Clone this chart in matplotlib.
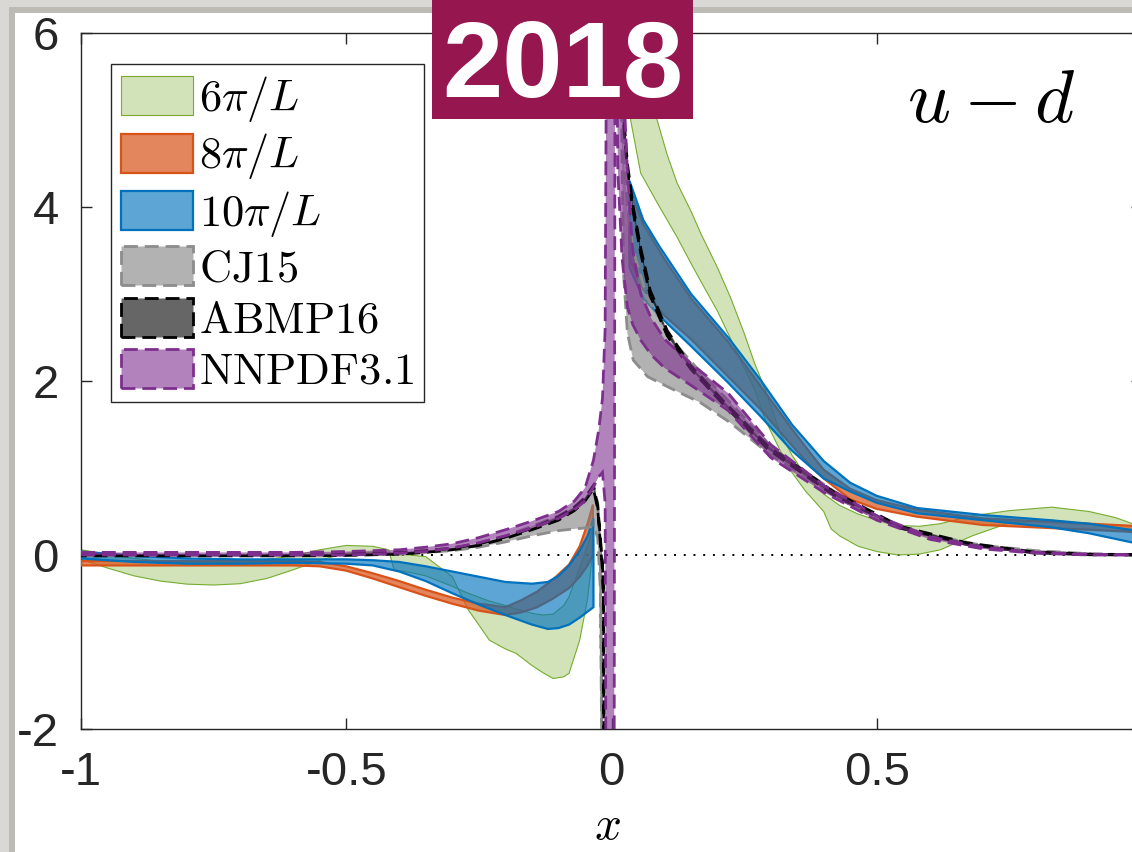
import numpy as np
import matplotlib.pyplot as plt
from matplotlib.colors import to_rgba
from matplotlib.patches import Rectangle

plt.rcParams['font.family'] = ['Liberation Sans', 'DejaVu Sans']
plt.rcParams['mathtext.fontset'] = 'cm'

# ---- lattice results (bands), x < 0 and x > 0 pieces ----
# 6pi/L
g_xl = [-1, -0.95, -0.9, -0.85, -0.8, -0.75, -0.7, -0.65, -0.6, -0.55, -0.5, -0.45, -0.42, -0.41, -0.38,
        -0.35, -0.3, -0.27, -0.23, -0.2, -0.18, -0.15, -0.13, -0.11, -0.09, -0.08, -0.06, -0.045, -0.035]
g_hl = [0.06, 0.01, -0.04, -0.07, -0.09, -0.09, -0.08, -0.05, -0.01, 0.06, 0.11, 0.1, 0.06, -0.17, -0.2,
        -0.24, -0.36, -0.44, -0.53, -0.58, -0.62, -0.67, -0.69, -0.68, -0.58, -0.48, -0.15, 0.1, 0.33]
g_ll = [-0.05, -0.15, -0.24, -0.3, -0.335, -0.345, -0.33, -0.27, -0.17, -0.06, 0.02, 0.03, 0.02, 0.01, 0.0,
        -0.02, -0.25, -0.63, -0.98, -1.08, -1.13, -1.27, -1.35, -1.42, -1.4, -1.36, -0.98, -0.5, 0.06]
g_xr = [0.02, 0.026, 0.036, 0.055, 0.086, 0.105, 0.124, 0.15, 0.168, 0.2, 0.225, 0.25, 0.27, 0.29, 0.318,
        0.34, 0.365, 0.4, 0.414, 0.43, 0.465, 0.5, 0.54, 0.58, 0.62, 0.68, 0.75, 0.83, 0.9, 0.95, 1.0]
g_hr = [8, 7.5, 6.6, 5.9, 5.0, 4.6, 4.27, 3.95, 3.7, 3.3, 2.95, 2.55, 2.2, 1.9, 1.4,
        1.15, 0.92, 0.7, 0.64, 0.57, 0.47, 0.4, 0.34, 0.33, 0.36, 0.45, 0.51, 0.55, 0.5, 0.43, 0.32]
g_lr = [8, 6.0, 5.0, 4.39, 4.05, 3.85, 3.65, 3.35, 3.15, 2.8, 2.48, 2.15, 1.9, 1.55, 1.2,
        0.95, 0.74, 0.5, 0.3, 0.22, 0.1, 0.04, 0.0, 0.01, 0.06, 0.22, 0.37, 0.4, 0.36, 0.31, 0.22]

# 8pi/L
o_xl = [-1, -0.9, -0.8, -0.7, -0.6, -0.55, -0.5, -0.45, -0.4, -0.35, -0.3, -0.25, -0.2, -0.17, -0.14,
        -0.11, -0.08, -0.06, -0.045, -0.035]
o_hl = [-0.07, -0.07, -0.07, -0.07, -0.07, -0.08, -0.13, -0.21, -0.3, -0.4, -0.49, -0.56, -0.6, -0.52, -0.42,
        -0.28, -0.11, 0.1, 0.36, 0.58]
o_ll = [-0.12, -0.12, -0.12, -0.12, -0.12, -0.13, -0.18, -0.27, -0.37, -0.47, -0.56, -0.64, -0.69, -0.66, -0.6,
        -0.5, -0.38, -0.25, -0.12, 0.0]
o_xr = [0.034, 0.06, 0.1, 0.15, 0.22, 0.28, 0.34, 0.375, 0.4, 0.45, 0.5, 0.576, 0.7, 0.827, 0.9, 1.0]
o_hr = [4.2, 3.8, 3.4, 2.95, 2.45, 1.95, 1.45, 1.17, 0.98, 0.76, 0.63, 0.52, 0.42, 0.38, 0.36, 0.33]
o_lr = [3.4, 3.05, 2.75, 2.48, 2.05, 1.68, 1.26, 1.02, 0.88, 0.64, 0.53, 0.44, 0.345, 0.31, 0.29, 0.26]

# 10pi/L
b_xl = [-1, -0.9, -0.8, -0.7, -0.6, -0.5, -0.45, -0.4, -0.35, -0.3, -0.25, -0.2, -0.15, -0.12, -0.1,
        -0.08, -0.06, -0.045, -0.034]
b_hl = [0.04, -0.01, -0.04, -0.05, -0.05, -0.05, -0.06, -0.08, -0.13, -0.19, -0.25, -0.31, -0.33, -0.31, -0.24,
        -0.12, 0.05, 0.22, 0.42]
b_ll = [-0.04, -0.08, -0.1, -0.1, -0.09, -0.1, -0.12, -0.19, -0.3, -0.44, -0.57, -0.69, -0.8, -0.85, -0.84,
        -0.8, -0.72, -0.65, -0.6]
b_xr = [0.034, 0.06, 0.09, 0.15, 0.22, 0.28, 0.34, 0.4, 0.45, 0.5, 0.576, 0.7, 0.827, 0.9, 1.0]
b_hr = [4.3, 3.85, 3.55, 3.0, 2.5, 2.02, 1.5, 1.08, 0.83, 0.68, 0.54, 0.46, 0.4, 0.36, 0.27]
b_lr = [3.3, 2.95, 2.75, 2.4, 1.98, 1.6, 1.2, 0.88, 0.73, 0.6, 0.48, 0.4, 0.32, 0.25, 0.12]

# ---- global fits ----
# CJ15
cj_xl = [-1, -0.6, -0.5, -0.4, -0.35, -0.3, -0.25, -0.2, -0.15, -0.1, -0.07, -0.05, -0.034, -0.026, -0.021,
         -0.018, -0.016]
cj_hl = [0.0, 0.0, 0.01, 0.03, 0.05, 0.08, 0.14, 0.22, 0.33, 0.45, 0.55, 0.64, 0.78, 0.6, 0.0, -2.0, -8]
cj_ll = [0.0, 0.0, 0.0, 0.01, 0.03, 0.05, 0.09, 0.15, 0.22, 0.28, 0.3, 0.31, 0.33, 0.2, -0.4, -2.5, -8]
cj_xr = [0.015, 0.02, 0.023, 0.03, 0.041, 0.068, 0.117, 0.168, 0.224, 0.3, 0.36, 0.42, 0.48, 0.55, 0.61,
         0.7, 0.8, 0.9, 1.0]
cj_hr = [8, 6.0, 4.6, 4.0, 3.5, 2.95, 2.45, 2.1, 1.75, 1.25, 0.98, 0.73, 0.5, 0.32, 0.22, 0.11, 0.05, 0.015, 0.0]
cj_lr = [8, 4.5, 3.2, 2.55, 2.24, 2.05, 1.9, 1.75, 1.52, 1.15, 0.92, 0.68, 0.48, 0.3, 0.2, 0.1, 0.04, 0.01, 0.0]

# ABMP16
ab_xl = [-1, -0.6, -0.5, -0.4, -0.35, -0.3, -0.25, -0.2, -0.15, -0.1, -0.07, -0.05, -0.034, -0.026, -0.021,
         -0.017, -0.015, -0.014, -0.013]
ab_hl = [0.01, 0.01, 0.015, 0.03, 0.05, 0.08, 0.13, 0.21, 0.31, 0.44, 0.55, 0.66, 0.8, 0.57, 0.2,
         -0.1, -0.45, -2.4, -8]
ab_ll = [-0.01, -0.01, -0.005, 0.01, 0.03, 0.06, 0.11, 0.19, 0.29, 0.4, 0.51, 0.62, 0.76, 0.53, 0.14,
         -0.18, -0.55, -2.6, -8]
ab_xr = [0.005, 0.012, 0.023, 0.03, 0.041, 0.055, 0.073, 0.105, 0.149, 0.211, 0.294, 0.418, 0.544, 0.67,
         0.795, 0.9, 1.0]
ab_hr = [10, 6.3, 5.05, 4.5, 4.0, 3.53, 3.04, 2.58, 2.18, 1.77, 1.26, 0.73, 0.33, 0.14, 0.035, 0.008, 0.002]
ab_lr = [10, 6.1, 4.95, 4.42, 3.94, 3.47, 2.98, 2.52, 2.14, 1.73, 1.22, 0.69, 0.31, 0.12, 0.025, 0.003, 0.0]

# NNPDF3.1 (one piece across x = 0)
nn_x = [-1, -0.9, -0.8, -0.7, -0.6, -0.5, -0.4, -0.35, -0.3, -0.25, -0.2, -0.15, -0.1, -0.07, -0.05,
        -0.034, -0.024, -0.017, -0.012, -0.008, 0.004, 0.007, 0.012, 0.02, 0.03, 0.04, 0.055, 0.075, 0.1, 0.15,
        0.22, 0.3, 0.4, 0.5, 0.6, 0.7, 0.8, 0.9, 1.0]
nn_hi = [0.03, 0.03, 0.03, 0.03, 0.03, 0.04, 0.06, 0.09, 0.13, 0.2, 0.29, 0.39, 0.5, 0.62, 0.77,
         1.09, 1.44, 1.8, 2.6, 8, 8, 8, 7.5, 5.8, 4.4, 3.5, 3.0, 2.72, 2.48, 2.2,
         1.86, 1.27, 0.8, 0.45, 0.21, 0.09, 0.03, 0.01, 0.0]
nn_lo = [0.0, 0.0, 0.0, 0.0, 0.0, 0.0, 0.02, 0.04, 0.08, 0.14, 0.22, 0.31, 0.42, 0.52, 0.62,
         0.78, 0.9, 0.95, 0.6, -8, -8, 8, 4.4, 3.4, 2.85, 2.65, 2.47, 2.3, 2.15, 1.95,
         1.66, 1.12, 0.72, 0.4, 0.18, 0.07, 0.02, 0.0, 0.0]

labels = [r'$6\pi/L$', r'$8\pi/L$', r'$10\pi/L$', r'$\mathrm{CJ15}$', r'$\mathrm{ABMP16}$', r'$\mathrm{NNPDF3.1}$']
xticks = [-1, -0.5, 0, 0.5, 1]
xtick_labels = ['-1', '-0.5', '0', '0.5', '1']
yticks = [-2, 0, 2, 4, 6]
ytick_labels = ['-2', '0', '2', '4', '6']

W, H = 1132, 852
fig = plt.figure(figsize=(W / 100, H / 100), dpi=100)
fig.patch.set_facecolor('#d9d8d4')
# slide panel with a soft shadow
fig.add_artist(Rectangle((9 / W, 0), 1, (H - 7) / H, transform=fig.transFigure,
                         facecolor='#bdbbb6', edgecolor='none', zorder=-3))
fig.add_artist(Rectangle((15 / W, 0), 1, (H - 13) / H, transform=fig.transFigure,
                         facecolor='white', edgecolor='none', zorder=-2))

ax = fig.add_axes([81 / W, 123 / H, 1061 / W, 696 / H])


def band(x, lo, hi, color, alpha, lw, ls='-', edge=None, z=2):
    x = np.asarray(x, float)
    px = np.concatenate([x, x[::-1]])
    py = np.concatenate([np.asarray(hi, float), np.asarray(lo, float)[::-1]])
    poly, = ax.fill(px, py, facecolor=to_rgba(color, alpha), edgecolor=edge or color,
                    linewidth=lw, linestyle=ls, zorder=z)
    return poly


ax.axhline(0, color='k', lw=1.4, ls=(0, (1, 4)), zorder=1)

dash = (0, (5, 2.5))
h_g = band(g_xl, g_ll, g_hl, '#77ac30', 0.33, 0.8, z=2)
band(g_xr, g_lr, g_hr, '#77ac30', 0.33, 0.8, z=2)
h_o = band(o_xl, o_ll, o_hl, '#d95319', 0.7, 1.6, z=3)
band(o_xr, o_lr, o_hr, '#d95319', 0.7, 1.6, z=3)
h_b = band(b_xl, b_ll, b_hl, '#0072bd', 0.64, 1.6, z=4)
band(b_xr, b_lr, b_hr, '#0072bd', 0.64, 1.6, z=4)
h_cj = band(cj_xl, cj_ll, cj_hl, '#808080', 0.6, 2.0, dash, edge='#8c8c8c', z=5)
band(cj_xr, cj_lr, cj_hr, '#808080', 0.6, 2.0, dash, edge='#8c8c8c', z=5)
h_ab = band(ab_xl, ab_ll, ab_hl, '#000000', 0.6, 2.0, dash, z=6)
band(ab_xr, ab_lr, ab_hr, '#000000', 0.6, 2.0, dash, z=6)
h_nn = band(nn_x, nn_lo, nn_hi, '#7e2f8e', 0.6, 2.0, dash, z=7)

ax.set_xlim(-1, 1)
ax.set_ylim(-2, 6)
ax.set_xticks(xticks, labels=xtick_labels)
ax.set_yticks(yticks, labels=ytick_labels)
ax.tick_params(direction='in', length=8, width=1.0, colors='#262626', labelsize=34, pad=16,
               top=True, right=True)
for s in ax.spines.values():
    s.set_color('#262626')
    s.set_linewidth(1.0)

leg = ax.legend([h_g, h_o, h_b, h_cj, h_ab, h_nn], labels, loc='upper left',
                bbox_to_anchor=(0.0283, 0.9555), borderaxespad=0, fontsize=32,
                handlelength=1.62, handleheight=0.97, handletextpad=0.15, labelspacing=0.17,
                borderpad=0.22, fancybox=False, framealpha=1, edgecolor='#262626')
leg.get_frame().set_linewidth(1.0)

ax.text(0.716, 4.98, r'$u-d$', fontsize=54, ha='center', va='baseline')
fig.text(607 / W, 3 / H, r'$x$', fontsize=34, ha='center', va='bottom')

# year banner
fig.add_artist(Rectangle((432 / W, (H - 119) / H), 261 / W, 119 / H, transform=fig.transFigure,
                         facecolor='#96174f', edgecolor='none', zorder=10))
fig.text(563 / W, (H - 97) / H, '2018', color='white', fontsize=78, fontweight='bold',
         ha='center', va='baseline', zorder=11)

fig.savefig('out.png', dpi=100, facecolor=fig.get_facecolor())
